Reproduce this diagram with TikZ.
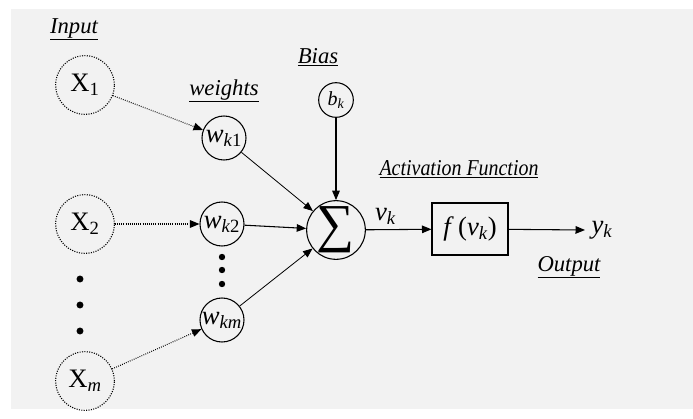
\documentclass[tikz,border=0pt]{standalone}
\usepackage{fontspec}
\setmainfont{Liberation Serif}
\usetikzlibrary{arrows.meta,positioning}

\begin{document}
\begin{tikzpicture}[
  x=0.75pt, y=-0.75pt,
  every node/.style={font=\fontsize{20}{22}\selectfont},
  inp/.style={circle, draw, densely dotted, thick, minimum size=44pt, inner sep=0pt},
  wgt/.style={circle, draw, thick, minimum size=33pt, inner sep=0pt},
  title/.style={anchor=base, font=\fontsize{17}{20}\selectfont\itshape},
  arr/.style={-{Triangle[length=2.5mm, width=2mm]}, semithick},
  darr/.style={arr, densely dotted, thick}
]
  % frame
  \fill[white] (0,0) rectangle (693,418);
  \fill[black!5] (11,9) rectangle (693,409);
  \useasboundingbox (0,0) rectangle (693,418);

  % inputs
  \node[title] (input) at (74,33) {\underline{Input}};
  \node[inp] (x1) at (85,85) {X\textsubscript{1}};
  \node[inp] (x2) at (85,224) {X\textsubscript{2}};
  \node[inp] (xm) at (85,381) {X\textsubscript{\itshape m}};
  \foreach \y in {279,305,331}
    \fill (80,\y) circle (2.6pt);

  % weights
  \node[title] (wlabel) at (224,95) {\underline{weights}};
  \node[wgt] (wk1) at (224,138) {\textit{w}\textsubscript{\itshape k\/\upshape 1}};
  \node[wgt] (wk2) at (222,224) {\textit{w}\textsubscript{\itshape k\/\upshape 2}};
  \node[wgt] (wkm) at (222,320) {\textit{w}\textsubscript{\itshape km}};
  \foreach \y in {257,270,284}
    \fill (222,\y) circle (2.4pt);

  % bias and sum
  \node[title] (blabel) at (318,63) {\underline{Bias}};
  \node[wgt, minimum size=26pt, font=\fontsize{15}{16}\selectfont] (bk) at (336,100) {\textit{b}\textsubscript{\itshape k}};
  \node[circle, draw, thick, minimum size=44pt, inner sep=-8pt,
        font=\fontsize{40}{40}\selectfont] (sum) at (336,230) {∑};

  % activation
  \node[title] (alabel) at (459,175) {\underline{\scalebox{0.88}[1]{Activation Function}}};
  \node[draw, thick, minimum width=57pt, minimum height=39pt, inner sep=0pt] (act) at (470,229)
    {\textit{f}\,(\textit{v}\textsubscript{\itshape k})};
  \node (yk) at (602,230) {\textit{y}\textsubscript{\itshape k}};
  \coordinate (out) at (585,230);
  \node[title] (olabel) at (569,271) {\underline{Output}};

  % connections
  \draw[darr] (x1) -- (wk1);
  \draw[darr] (x2) -- (wk2);
  \draw[darr] (xm) -- (wkm);
  \draw[arr] (wk1) -- (sum);
  \draw[arr, thick] (wk2) -- (sum);
  \draw[arr] (wkm) -- (sum);
  \draw[arr, thick] (bk) -- (sum);
  \draw[arr, thick] (sum) -- node[above, pos=0.3] {\textit{v}\textsubscript{\itshape k}} (act);
  \draw[arr, thick] (act) -- (out);
\end{tikzpicture}
\end{document}
